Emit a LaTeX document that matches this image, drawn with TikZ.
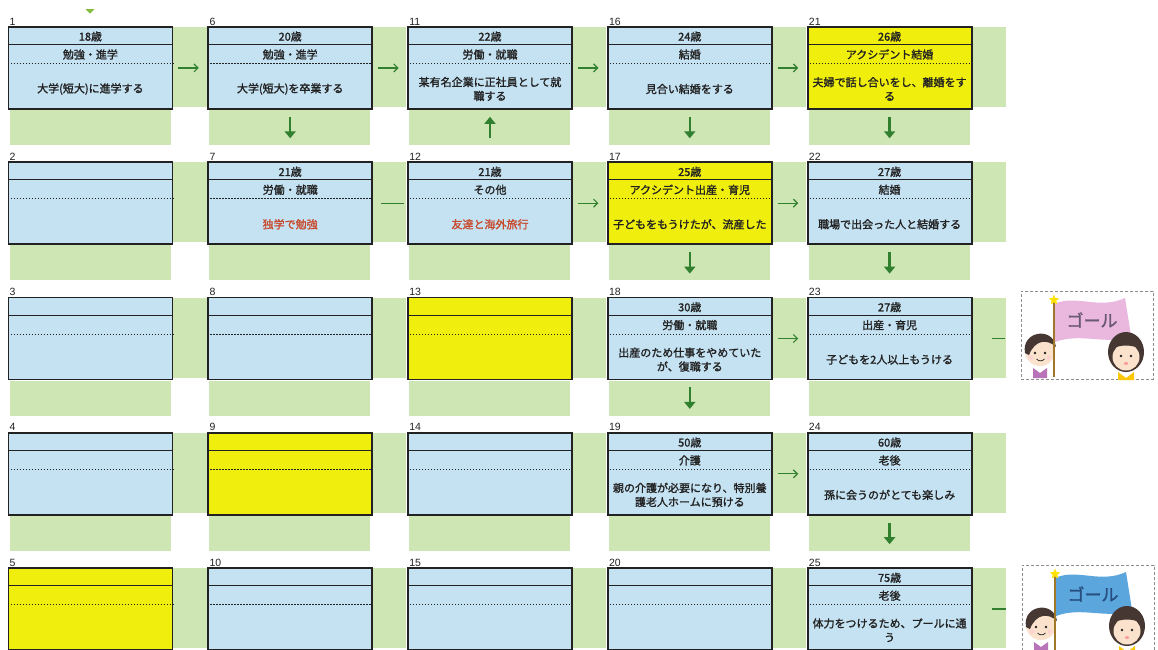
\documentclass[tikz,border=0pt]{standalone}
\usepackage{fontspec}
\setmainfont{Noto Sans CJK JP}[AutoFakeBold=1.5]
\newfontfamily\labelfont{Liberation Sans}
\usetikzlibrary{arrows.meta,shapes.geometric}

\definecolor{boxblue}{RGB}{197,226,243}
\definecolor{accident}{RGB}{240,238,12}
\definecolor{lane}{RGB}{206,229,180}
\definecolor{flow}{RGB}{48,128,48}
\definecolor{ink}{RGB}{34,34,34}
\definecolor{plan}{RGB}{200,72,42}
\definecolor{marker}{RGB}{130,190,60}
\definecolor{skin}{RGB}{250,226,204}
\definecolor{hair}{RGB}{70,55,50}
\definecolor{pole}{RGB}{160,118,40}
\definecolor{pinkflag}{RGB}{234,184,222}
\definecolor{pinkink}{RGB}{105,88,118}
\definecolor{blueflag}{RGB}{92,166,222}
\definecolor{blueink}{RGB}{38,78,128}

\tikzset{
  lbox/.style={draw=ink, line width=1.8pt, rectangle, inner sep=0pt,
    minimum width=164pt, minimum height=82pt},
  agerule/.style={draw=ink, line width=0.9pt},
  catrule/.style={draw=ink, line width=0.9pt, dash pattern=on 1.2pt off 1.8pt},
  numlabel/.style={font=\labelfont\fontsize{10.5}{10.5}\selectfont, text=ink,
    anchor=base west, inner sep=0pt},
  agetxt/.style={font=\fontsize{11}{12}\selectfont\bfseries, text=ink, inner sep=0pt},
  cattxt/.style={font=\fontsize{11}{12}\selectfont\bfseries, text=ink, inner sep=0pt},
  desctxt/.style={font=\fontsize{11}{14}\selectfont\bfseries, align=center, inner sep=0pt},
  harrow/.style={draw=flow, line width=1.2pt, -{Straight Barb[length=4pt,width=8pt]},
    shorten <=5pt, shorten >=8.5pt},
  varrow/.style={draw=flow, line width=2.4pt, -{Triangle[length=7pt,width=11pt]}},
  down/.style={varrow, shorten <=7pt, shorten >=23pt},
  up/.style={varrow, shorten <=23.3pt, shorten >=7pt},
  link/.style={draw=flow, line width=1.3pt},
  goalframe/.style={draw=black!45, line width=0.8pt, dash pattern=on 3pt off 2pt,
    fill=white, rectangle, inner sep=0pt, minimum width=132pt, minimum height=88pt},
}

% one stage of the life plan: name, left, top, fill, number, age, category, event, event colour
\newcommand{\lifebox}[9]{%
  \node[lbox, fill=#4, anchor=north west] (#1) at (#2,#3) {};
  \draw[agerule] ([yshift=-18.5pt]#1.north west) -- ([yshift=-18.5pt]#1.north east);
  \draw[catrule] ([yshift=-37.5pt]#1.north west) -- ([yshift=-37.5pt]#1.north east);
  \node[numlabel] (#1-no) at ([xshift=2pt,yshift=1pt]#1.north west) {#5};
  \node[agetxt] (#1-age) at ([yshift=-10.5pt]#1.north) {#6};
  \node[cattxt] (#1-cat) at ([yshift=-28.5pt]#1.north) {#7};
  \node[desctxt, text=#9] (#1-ev) at ([yshift=-63pt]#1.north) {#8};
}

% goal picture: frame node, flag colour, lettering colour
\newcommand{\goalart}[3]{%
  \begin{scope}[shift={(#1.north west)}]
    % flag
    \fill[#2] (33,13) .. controls (55,3) and (78,19) .. (104,7)
      -- (110,45) .. controls (86,55) and (60,41) .. (34,51) -- cycle;
    \node[font=\fontsize{17}{17}\selectfont\bfseries, text=#3] (#1-word) at (71,29) {ゴール};
    % left child
    \fill[skin] (19,60) circle (15);
    \fill[hair] (4,62) .. controls (0,40) and (32,35) .. (35,56)
      .. controls (27,48) and (14,48) .. (8,64) -- cycle;
    \fill[ink] (14,62) circle (1.4) (24,62) circle (1.4);
    \draw[ink, line width=0.7pt] (15.5,68) .. controls (18,70.5) and (21,70.5) .. (23.5,68);
    \fill[pink!70] (10,66.5) circle (2.2) (28,66.5) circle (2.2);
    \fill[violet!55] (12,77) -- (19,82) -- (26,77) -- (26,87) -- (12,87) -- cycle;
    % flag pole with star
    \draw[pole, line width=2.6pt] (33,11) -- (33,86);
    \node[star, star points=5, star point ratio=2.3, fill=yellow!85!orange,
      minimum size=11pt, inner sep=0pt] (#1-star) at (33,9) {};
    % right child
    \fill[hair] (105,61) ellipse (18 and 20);
    \fill[skin] (105,66) circle (13.5);
    \fill[hair] (89,59) .. controls (94,46) and (116,46) .. (121,59)
      .. controls (112,53) and (98,53) .. (89,59) -- cycle;
    \fill[ink] (100,65) circle (1.4) (110,65) circle (1.4);
    \fill[pink!80!red] (105,72.5) ellipse (2.2 and 1.4);
    \fill[yellow!60!orange] (97,81) -- (105,87) -- (113,81) -- (113,89) -- (97,89) -- cycle;
  \end{scope}
}

\begin{document}
\begin{tikzpicture}[x=1pt,y=-1pt]
\useasboundingbox (0,0) rectangle (1158,649);
\fill[white] (0,0) rectangle (1158,649);

% green lanes to the right of and below every stage
\foreach \c in {0,...,4}{
  \foreach \r in {0,...,4}{
    \pgfmathsetmacro\L{7.5+199.8*\c}
    \pgfmathsetmacro\T{26+135.3*\r}
    \fill[lane] (\L+165,\T+1) rectangle (\L+199,\T+81);
    \fill[lane] (\L+2,\T+84) rectangle (\L+163,\T+119);
  }
}

% start marker
\fill[marker] (85.5,9) -- (94.5,9) -- (90,13.5) -- cycle;

% stages
\lifebox{b1}{7.5}{26}{boxblue}{1}{18歳}{勉強・進学}{大学(短大)に進学する}{ink}
\lifebox{b2}{7.5}{161.3}{boxblue}{2}{}{}{}{ink}
\lifebox{b3}{7.5}{296.6}{boxblue}{3}{}{}{}{ink}
\lifebox{b4}{7.5}{431.9}{boxblue}{4}{}{}{}{ink}
\lifebox{b5}{7.5}{567.2}{accident}{5}{}{}{}{ink}

\lifebox{b6}{207.3}{26}{boxblue}{6}{20歳}{勉強・進学}{大学(短大)を卒業する}{ink}
\lifebox{b7}{207.3}{161.3}{boxblue}{7}{21歳}{労働・就職}{独学で勉強}{plan}
\lifebox{b8}{207.3}{296.6}{boxblue}{8}{}{}{}{ink}
\lifebox{b9}{207.3}{431.9}{accident}{9}{}{}{}{ink}
\lifebox{b10}{207.3}{567.2}{boxblue}{10}{}{}{}{ink}

\lifebox{b11}{407.1}{26}{boxblue}{11}{22歳}{労働・就職}{某有名企業に正社員として就\\職する}{ink}
\lifebox{b12}{407.1}{161.3}{boxblue}{12}{21歳}{その他}{友達と海外旅行}{plan}
\lifebox{b13}{407.1}{296.6}{accident}{13}{}{}{}{ink}
\lifebox{b14}{407.1}{431.9}{boxblue}{14}{}{}{}{ink}
\lifebox{b15}{407.1}{567.2}{boxblue}{15}{}{}{}{ink}

\lifebox{b16}{606.9}{26}{boxblue}{16}{24歳}{結婚}{見合い結婚をする}{ink}
\lifebox{b17}{606.9}{161.3}{accident}{17}{25歳}{アクシデント出産・育児}{子どもをもうけたが、流産した}{ink}
\lifebox{b18}{606.9}{296.6}{boxblue}{18}{30歳}{労働・就職}{出産のため仕事をやめていた\\が、復職する}{ink}
\lifebox{b19}{606.9}{431.9}{boxblue}{19}{50歳}{介護}{親の介護が必要になり、特別養\\護老人ホームに預ける}{ink}
\lifebox{b20}{606.9}{567.2}{boxblue}{20}{}{}{}{ink}

\lifebox{b21}{806.7}{26}{accident}{21}{26歳}{アクシデント結婚}{夫婦で話し合いをし、離婚をす\\る}{ink}
\lifebox{b22}{806.7}{161.3}{boxblue}{22}{27歳}{結婚}{職場で出会った人と結婚する}{ink}
\lifebox{b23}{806.7}{296.6}{boxblue}{23}{27歳}{出産・育児}{子どもを2人以上もうける}{ink}
\lifebox{b24}{806.7}{431.9}{boxblue}{24}{60歳}{老後}{孫に会うのがとても楽しみ}{ink}
\lifebox{b25}{806.7}{567.2}{boxblue}{25}{75歳}{老後}{体力をつけるため、プールに通\\う}{ink}

% goals
\node[goalframe, anchor=north west] (g1) at (1021,291) {};
\goalart{g1}{pinkflag}{pinkink}
\node[goalframe, anchor=north west] (g2) at (1022,565) {};
\goalart{g2}{blueflag}{blueink}

% flow between stages
\draw[harrow] (b1) -- (b6);
\draw[harrow] (b6) -- (b11);
\draw[harrow] (b11) -- (b16);
\draw[harrow] (b16) -- (b21);
\draw[down] (b6) -- (b7);
\draw[link, shorten <=8pt, shorten >=3pt] (b7) -- (b12);
\draw[up] (b12) -- (b11);
\draw[down] (b16) -- (b17);
\draw[down] (b21) -- (b22);
\draw[harrow] (b12) -- (b17);
\draw[harrow] (b17) -- (b22);
\draw[down] (b17) -- (b18);
\draw[down] (b22) -- (b23);
\draw[harrow] (b18) -- (b23);
\draw[down] (b18) -- (b19);
\draw[harrow] (b19) -- (b24);
\draw[down] (b24) -- (b25);
\draw[link, shorten <=19pt, shorten >=16pt] (b23.east) -- (b23.east -| g1.west);
\draw[link, shorten <=19pt, shorten >=16pt] (b25.east) -- (b25.east -| g2.west);
\end{tikzpicture}
\end{document}
